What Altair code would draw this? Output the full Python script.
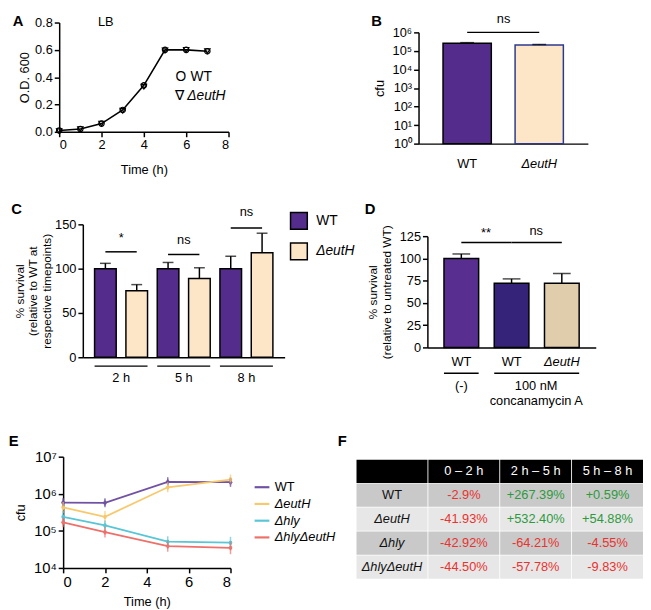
import altair as alt
import pandas as pd

FONT = "Liberation Sans"

# ---------------- Panel A data ----------------
a_time = [0, 1, 2, 3, 4, 5, 6, 7]
a_wt = [0.01, 0.02, 0.06, 0.16, 0.34, 0.60, 0.60, 0.59]
a_eut = [0.005, 0.02, 0.06, 0.155, 0.33, 0.595, 0.60, 0.59]

# ---------------- Panel B data ----------------
b_strains = ["WT", "ΔeutH"]
b_cfu = [2.6e5, 2.1e5]
b_err = [2.8e5, 2.2e5]

# ---------------- Panel C data ----------------
c_slots = ["WT 2 h", "ΔeutH 2 h", "WT 5 h", "ΔeutH 5 h", "WT 8 h", "ΔeutH 8 h"]
c_strain = ["WT", "ΔeutH", "WT", "ΔeutH", "WT", "ΔeutH"]
c_vals = [100, 75, 100, 89, 100, 118]
c_err = [106, 82, 107, 101, 114, 140]
c_groups = ["2 h", "5 h", "8 h"]
c_sig = ["*", "ns", "ns"]
c_sig_y = [119, 116, 146]
c_sig_ty = [127, 125, 156]

# ---------------- Panel D data ----------------
d_cats = ["WT (-)", "WT conc", "ΔeutH conc"]
d_labels = ["WT", "WT", "ΔeutH"]
d_vals = [100, 72, 72]
d_err = [105, 77, 83]

# ---------------- Panel E data ----------------
e_time = [0, 2, 5, 8]
e_series = ["WT", "ΔeutH", "Δhly", "ΔhlyΔeutH"]
e_vals = {
    "WT": [5.8e5, 5.7e5, 2.1e6, 2.05e6],
    "ΔeutH": [4.3e5, 2.4e5, 1.5e6, 2.4e6],
    "Δhly": [2.4e5, 1.4e5, 5.1e4, 4.8e4],
    "ΔhlyΔeutH": [1.7e5, 9.3e4, 3.9e4, 3.5e4],
}
e_lo = {
    "WT": [5.6e5, 5.5e5, 2.0e6, 1.95e6],
    "ΔeutH": [3.9e5, 2.1e5, 1.4e6, 2.2e6],
    "Δhly": [2.1e5, 1.3e5, 4.5e4, 4.2e4],
    "ΔhlyΔeutH": [1.6e5, 8.4e4, 3.5e4, 3.0e4],
}
e_hi = {
    "WT": [6.0e5, 5.9e5, 2.2e6, 2.15e6],
    "ΔeutH": [4.7e5, 2.7e5, 1.6e6, 2.6e6],
    "Δhly": [2.7e5, 1.5e5, 5.6e4, 5.4e4],
    "ΔhlyΔeutH": [1.8e5, 1.0e5, 4.2e4, 4.0e4],
}
e_colors = ["#7151a3", "#f7c96c", "#58c6d6", "#ee706b"]

# ---------------- Panel F data ----------------
f_cols = ["0 – 2 h", "2 h  – 5 h", "5 h – 8 h"]
f_rows = ["WT", "ΔeutH", "Δhly", "ΔhlyΔeutH"]
f_vals = [
    ["-2.9%", "+267.39%", "+0.59%"],
    ["-41.93%", "+532.40%", "+54.88%"],
    ["-42.92%", "-64.21%", "-4.55%"],
    ["-44.50%", "-57.78%", "-9.83%"],
]

PURPLE = "#542c8b"
PEACH = "#fde6c7"
POW_EXPR = "'10' + ['⁰','¹','²','³','⁴','⁵','⁶','⁷'][round(log(datum.value)/LN10)]"
LEG_ITAL = alt.ExprRef("datum.label == 'WT' ? 'normal' : 'italic'")


def letter(t, dx=0, dy=0, offset=4):
    return alt.TitleParams(t, anchor="start", frame="bounds", fontSize=15, fontWeight="bold",
                           font=FONT, dx=dx, dy=dy, offset=offset, color="black")


def ax(**kw):
    base = dict(labelOverlap=False, labelBound=False)
    base.update(kw)
    return alt.Axis(**base)


def ital(test):
    return {"condition": {"test": test, "value": "italic"}, "value": "normal"}


# ======================= A =======================
A_SH = 24  # A's axes sit left of the column origin
dfA = pd.DataFrame({"t": a_time * 2, "od": a_wt + a_eut,
                    "strain": ["WT"] * len(a_time) + ["ΔeutH"] * len(a_time)})
a_x = alt.Scale(domain=[0, 8], nice=False, range=[-A_SH, 172 - A_SH])
a_y = alt.Scale(domain=[0, 0.8], nice=False)
axA_x = ax(values=[0, 2, 4, 6, 8], title="Time (h)", titlePadding=12)
axA_y = ax(values=[0, 0.2, 0.4, 0.6, 0.8], format=".1f", title="O.D. 600", titlePadding=3, offset=A_SH)
xA = alt.X("t:Q", scale=a_x, axis=axA_x)
yA = alt.Y("od:Q", scale=a_y, axis=axA_y)
A_line = alt.Chart(dfA).transform_filter("datum.strain == 'WT'").mark_line(
    color="black", strokeWidth=1.6).encode(x=xA, y=yA)
A_pts = alt.Chart(dfA).mark_point(filled=False, color="black", size=30, strokeWidth=1.2, opacity=1).encode(
    x=xA, y=yA,
    shape=alt.Shape("strain:N", scale=alt.Scale(domain=b_strains, range=["circle", "triangle-down"]), legend=None))
A_lb = alt.Chart(pd.DataFrame({"t": [2.2], "od": [0.805], "s": ["LB"]})).mark_text(
    font=FONT, fontSize=13, baseline="middle").encode(x=xA, y=yA, text="s:N")
A_leg1 = alt.Chart(pd.DataFrame({"t": [5.49, 6.2, 5.49], "od": [0.40, 0.40, 0.26], "s": ["O", "WT", "∇"]})).mark_text(
    font=FONT, fontSize=14, align="left", baseline="middle").encode(x=xA, y=yA, text="s:N")
A_leg2 = alt.Chart(pd.DataFrame({"t": [6.05], "od": [0.26], "s": ["ΔeutH"]})).mark_text(
    font=FONT, fontSize=14, align="left", baseline="middle", fontStyle="italic").encode(x=xA, y=yA, text="s:N")
A = alt.layer(A_line, A_pts, A_lb, A_leg1, A_leg2).properties(
    width=172 - A_SH, height=111, title=letter("A", dx=-6, dy=17))

# ======================= B =======================
B_TOP = 10
dfB = pd.DataFrame({"strain": b_strains, "cfu": b_cfu, "err": b_err, "base": [1, 1]})
b_y = alt.Scale(type="log", domain=[1, 1e6], nice=False, range=[113 + B_TOP, B_TOP])
b_x = alt.Scale(domain=b_strains, paddingInner=0.33, paddingOuter=0.34)
axB_x = ax(title=None, labelAngle=0, ticks=False, labelPadding=14, labelFontSize=13,
           labelFontStyle=ital("datum.value == 'ΔeutH'"))
axB_y = ax(values=[1, 10, 100, 1e3, 1e4, 1e5, 1e6], labelExpr=POW_EXPR, title="cfu",
           labelFontSize=13, titlePadding=6)
B_bar = alt.Chart(dfB).mark_bar(strokeWidth=1.5).encode(
    x=alt.X("strain:N", scale=b_x, axis=axB_x), y=alt.Y("cfu:Q", scale=b_y, axis=axB_y), y2="base:Q",
    fill=alt.Fill("strain:N", scale=alt.Scale(domain=b_strains, range=[PURPLE, PEACH]), legend=None),
    stroke=alt.Stroke("strain:N", scale=alt.Scale(domain=b_strains, range=["black", "#2c3a8c"]), legend=None))
B_err = alt.Chart(dfB).mark_rule(color="black", strokeWidth=1.2).encode(
    x=alt.X("strain:N", scale=b_x, axis=axB_x), y=alt.Y("cfu:Q", scale=b_y, axis=axB_y), y2="err:Q")
B_cap = alt.Chart(dfB).mark_tick(color="black", thickness=1.5, size=14).encode(
    x=alt.X("strain:N", scale=b_x, axis=axB_x), y=alt.Y("err:Q", scale=b_y, axis=axB_y))
dfBs = pd.DataFrame({"a": ["WT"], "b": ["ΔeutH"], "y": [1e6], "ty": [2.2e6], "t": ["ns"]})
B_sig = alt.Chart(dfBs).mark_rule(color="black", strokeWidth=1.5).encode(
    x=alt.X("a:N", scale=b_x, axis=axB_x), x2="b:N", y=alt.Y("y:Q", scale=b_y, axis=axB_y))
B_sigt = alt.Chart(dfBs).mark_text(font=FONT, fontSize=13, dx=37, baseline="bottom").encode(
    x=alt.X("a:N", scale=b_x, axis=axB_x), y=alt.Y("ty:Q", scale=b_y, axis=axB_y), text="t:N")
B = alt.layer(B_bar, B_err, B_cap, B_sig, B_sigt).properties(
    width=172, height=113 + B_TOP, title=letter("B", dx=-2, dy=20))

# ======================= C =======================
dfC = pd.DataFrame({"slot": c_slots, "strain": c_strain, "val": c_vals, "err": c_err})
c_xscale = alt.Scale(domain=c_slots, paddingInner=0.31, paddingOuter=0.375)
c_yscale = alt.Scale(domain=[0, 150], nice=False)
axC_x = ax(title=None, labels=False, ticks=False)
axC_y = ax(values=[0, 50, 100, 150], title=["% survival", "(relative to WT at", "respective timepoints)"],
           labelFontSize=13, titleFontSize=12, titlePadding=1, titleLineHeight=14)


def cx(f, **kw):
    return alt.X(f, scale=c_xscale, axis=axC_x, **kw)


def cy(f):
    return alt.Y(f, scale=c_yscale, axis=axC_y)


C_err = alt.Chart(dfC).mark_rule(color="black", strokeWidth=1.5).encode(x=cx("slot:N"), y=cy("val:Q"), y2="err:Q")
C_cap = alt.Chart(dfC).mark_tick(color="black", thickness=1.5, size=11).encode(x=cx("slot:N"), y=cy("err:Q"))
C_bar = alt.Chart(dfC).mark_bar(stroke="black", strokeWidth=1.5).encode(
    x=cx("slot:N"), y=cy("val:Q"),
    fill=alt.Fill("strain:N", scale=alt.Scale(domain=b_strains, range=[PURPLE, PEACH]),
                  legend=alt.Legend(title=None, orient="none", legendX=210, legendY=-13, symbolType="square",
                                    symbolSize=290, symbolStrokeColor="black", symbolStrokeWidth=1.5,
                                    labelFontSize=14, labelFont=FONT, rowPadding=6, labelOffset=8, padding=0,
                                    labelFontStyle=LEG_ITAL)))
dfCs = pd.DataFrame({"a": c_slots[0::2], "b": c_slots[1::2], "y": c_sig_y, "ty": c_sig_ty, "t": c_sig,
                     "g": c_groups, "gy": [-10] * 3, "gty": [-24] * 3})
C_sig = alt.Chart(dfCs).mark_rule(color="black", strokeWidth=1.5).encode(x=cx("a:N"), x2="b:N", y=cy("y:Q"))
C_sigt = alt.Chart(dfCs).mark_text(font=FONT, fontSize=13, dx=16, baseline="bottom").encode(
    x=cx("a:N"), y=cy("ty:Q"), text="t:N")
C_grp = alt.Chart(dfCs).mark_rule(color="black", strokeWidth=1.5).encode(
    x=cx("a:N", bandPosition=0), x2=alt.X2("b:N", bandPosition=1), y=cy("gy:Q"))
C_grpt = alt.Chart(dfCs).mark_text(font=FONT, fontSize=13, dx=16, baseline="middle").encode(
    x=cx("a:N"), y=cy("gty:Q"), text="g:N")
C = alt.layer(C_err, C_cap, C_bar, C_sig, C_sigt, C_grp, C_grpt).properties(
    width=205, height=135, title=letter("C", dx=-2, dy=15))

# ======================= D =======================
D_TOP = 12
dfD = pd.DataFrame({"cat": d_cats, "lab": d_labels, "val": d_vals, "err": d_err})
d_xscale = alt.Scale(domain=d_cats, paddingInner=0.31, paddingOuter=0.33)
d_yscale = alt.Scale(domain=[0, 125], nice=False, range=[113 + D_TOP, D_TOP])
axD_x = ax(title=None, ticks=False, labelAngle=0, labelPadding=8, labelFontSize=13,
           labelExpr="datum.value == 'ΔeutH conc' ? 'ΔeutH' : 'WT'",
           labelFontStyle=ital("datum.value == 'ΔeutH conc'"))
axD_y = ax(values=[0, 25, 50, 75, 100, 125], title=["% survival", "(relative to untreated WT)"],
           labelFontSize=13, titleFontSize=12, titlePadding=6)


def dx_(f, **kw):
    return alt.X(f, scale=d_xscale, axis=axD_x, **kw)


def dy_(f):
    return alt.Y(f, scale=d_yscale, axis=axD_y)


D_err = alt.Chart(dfD).mark_rule(color="black", strokeWidth=1.5).encode(x=dx_("cat:N"), y=dy_("val:Q"), y2="err:Q")
D_cap = alt.Chart(dfD).mark_tick(color="black", thickness=1.5, size=18).encode(x=dx_("cat:N"), y=dy_("err:Q"))
D_bar = alt.Chart(dfD).mark_bar(stroke="black", strokeWidth=1.5).encode(
    x=dx_("cat:N"), y=dy_("val:Q"),
    fill=alt.Fill("cat:N", scale=alt.Scale(domain=d_cats, range=["#582e91", "#35237a", "#e0cdab"]), legend=None))
dfDs = pd.DataFrame({"a": ["WT (-)", "WT conc"], "b": ["WT conc", "ΔeutH conc"], "y": [118, 118],
                     "ty": [121, 123], "t": ["**", "ns"]})
D_sig = alt.Chart(dfDs).mark_rule(color="black", strokeWidth=1.5).encode(x=dx_("a:N"), x2="b:N", y=dy_("y:Q"))
D_sigt = alt.Chart(dfDs).mark_text(font=FONT, fontSize=13, dx=25, baseline="bottom").encode(
    x=dx_("a:N"), y=dy_("ty:Q"), text="t:N")
dfDg = pd.DataFrame({"a": ["WT (-)", "WT conc"], "b": ["WT (-)", "ΔeutH conc"], "y": [-29, -29]})
D_grp = alt.Chart(dfDg).mark_rule(color="black", strokeWidth=1.5).encode(
    x=dx_("a:N", bandPosition=0), x2=alt.X2("b:N", bandPosition=1), y=dy_("y:Q"))
D_t1 = alt.Chart(pd.DataFrame({"a": ["WT (-)"], "y": [-43], "t": ["(-)"]})).mark_text(
    font=FONT, fontSize=13).encode(x=dx_("a:N"), y=dy_("y:Q"), text="t:N")
D_t2 = alt.Chart(pd.DataFrame({"a": ["WT conc", "WT conc"], "y": [-43, -60], "t": ["100 nM", "concanamycin A"]})).mark_text(
    font=FONT, fontSize=13, dx=25).encode(x=dx_("a:N"), y=dy_("y:Q"), text="t:N")
D = alt.layer(D_err, D_cap, D_bar, D_sig, D_sigt, D_grp, D_t1, D_t2).properties(
    width=171, height=113 + D_TOP, title=letter("D", dx=-2, dy=-4))

# ======================= E =======================
E_SH = 20
rowsE = []
for s in e_series:
    for i, t in enumerate(e_time):
        rowsE.append({"strain": s, "t": t, "cfu": e_vals[s][i], "lo": e_lo[s][i], "hi": e_hi[s][i]})
dfE = pd.DataFrame(rowsE)
e_xscale = alt.Scale(domain=[0, 8], nice=False, range=[-E_SH, 170 - E_SH])
e_yscale = alt.Scale(type="log", domain=[1e4, 1e7], nice=False)
axE_x = ax(values=[0, 2, 4, 6, 8], title="Time (h)", labelFontSize=15, titlePadding=6)
axE_y = ax(values=[1e4, 1e5, 1e6, 1e7], labelExpr=POW_EXPR, title="cfu", labelFontSize=15,
           titlePadding=6, offset=E_SH)
xE = alt.X("t:Q", scale=e_xscale, axis=axE_x)
colE = alt.Color("strain:N", sort=e_series, scale=alt.Scale(domain=e_series, range=e_colors),
                 legend=alt.Legend(title=None, orient="none", legendX=173, legendY=22, symbolType="stroke",
                                   symbolStrokeWidth=2.2, symbolSize=225, labelFontSize=13, labelFont=FONT,
                                   rowPadding=1, labelOffset=4, padding=0, labelFontStyle=LEG_ITAL))
E_line = alt.Chart(dfE).mark_line(strokeWidth=1.8, point=alt.OverlayMarkDef(size=14, filled=True)).encode(
    x=xE, y=alt.Y("cfu:Q", scale=e_yscale, axis=axE_y), color=colE)
E_err = alt.Chart(dfE).mark_rule(strokeWidth=1.5).encode(
    x=xE, y=alt.Y("lo:Q", scale=e_yscale, axis=axE_y), y2="hi:Q", color=colE)
E_capl = alt.Chart(dfE).mark_tick(thickness=1.5, size=8).encode(
    x=xE, y=alt.Y("lo:Q", scale=e_yscale, axis=axE_y), color=colE)
E_caph = alt.Chart(dfE).mark_tick(thickness=1.5, size=8).encode(
    x=xE, y=alt.Y("hi:Q", scale=e_yscale, axis=axE_y), color=colE)
E = alt.layer(E_line, E_err, E_capl, E_caph).properties(
    width=170 - E_SH, height=113, title=letter("E", dx=-6, dy=3))

# ======================= F =======================
F_L = 15
F_T = 3
f_row_keys = ["hdr"] + f_rows
cells = []
for j, h in enumerate([""] + f_cols):
    cells.append({"row": "hdr", "col": j, "text": h, "kind": "head", "tcol": "head", "ital": False})
for i, r in enumerate(f_rows):
    kind = "dark" if i % 2 == 0 else "light"
    cells.append({"row": r, "col": 0, "text": r, "kind": kind, "tcol": "label", "ital": r != "WT"})
    for j, v in enumerate(f_vals[i]):
        cells.append({"row": r, "col": j + 1, "text": v, "kind": kind,
                      "tcol": "neg" if v.startswith("-") else "pos", "ital": False})
dfF = pd.DataFrame(cells)
xF = alt.X("col:O", axis=None, scale=alt.Scale(paddingInner=0.012, paddingOuter=0, range=[F_L, F_L + 291]))
yF = alt.Y("row:O", sort=f_row_keys, axis=None,
           scale=alt.Scale(paddingInner=0.03, paddingOuter=0, range=[F_T, F_T + 121]))
F_rect = alt.Chart(dfF).mark_rect().encode(
    x=xF, y=yF,
    fill=alt.Fill("kind:N", scale=alt.Scale(domain=["head", "dark", "light"],
                                            range=["#000000", "#c9c9c9", "#e7e7e7"]), legend=None))
tcol = alt.Color("tcol:N", scale=alt.Scale(domain=["head", "label", "neg", "pos"],
                                           range=["#ffffff", "#111111", "#e8332f", "#2e9a3e"]), legend=None)
F_text = alt.Chart(dfF).transform_filter("!datum.ital").mark_text(font=FONT, fontSize=13).encode(
    x=xF, y=yF, text="text:N", color=tcol)
F_texti = alt.Chart(dfF).transform_filter("datum.ital").mark_text(font=FONT, fontSize=13, fontStyle="italic").encode(
    x=xF, y=yF, text="text:N", color=tcol)
F = alt.layer(F_rect, F_text, F_texti).properties(
    width=291 + F_L, height=121 + F_T, title=letter("F", dx=-4, dy=2, offset=10))

IND = dict(fill="independent", stroke="independent", color="independent", shape="independent")
row1 = alt.hconcat(A, B, spacing=120).resolve_scale(**IND)
row2 = alt.hconcat(C, D, spacing=10).resolve_scale(**IND)
row3 = alt.hconcat(E, F, spacing=2).resolve_scale(**IND)

chart = alt.vconcat(row1, row2, row3, spacing=26).resolve_scale(**IND).properties(
    padding=0, background="white").configure_axis(
    domainColor="black", domainWidth=1.5, tickColor="black", tickWidth=1.5, tickSize=5,
    labelColor="black", titleColor="black", labelFont=FONT, titleFont=FONT, titleFontWeight="normal",
    grid=False, labelFontSize=13, titleFontSize=13
).configure_view(stroke=None).configure_legend(labelColor="black")

chart.save("out.html", embed_options={"renderer": "svg", "actions": False})
